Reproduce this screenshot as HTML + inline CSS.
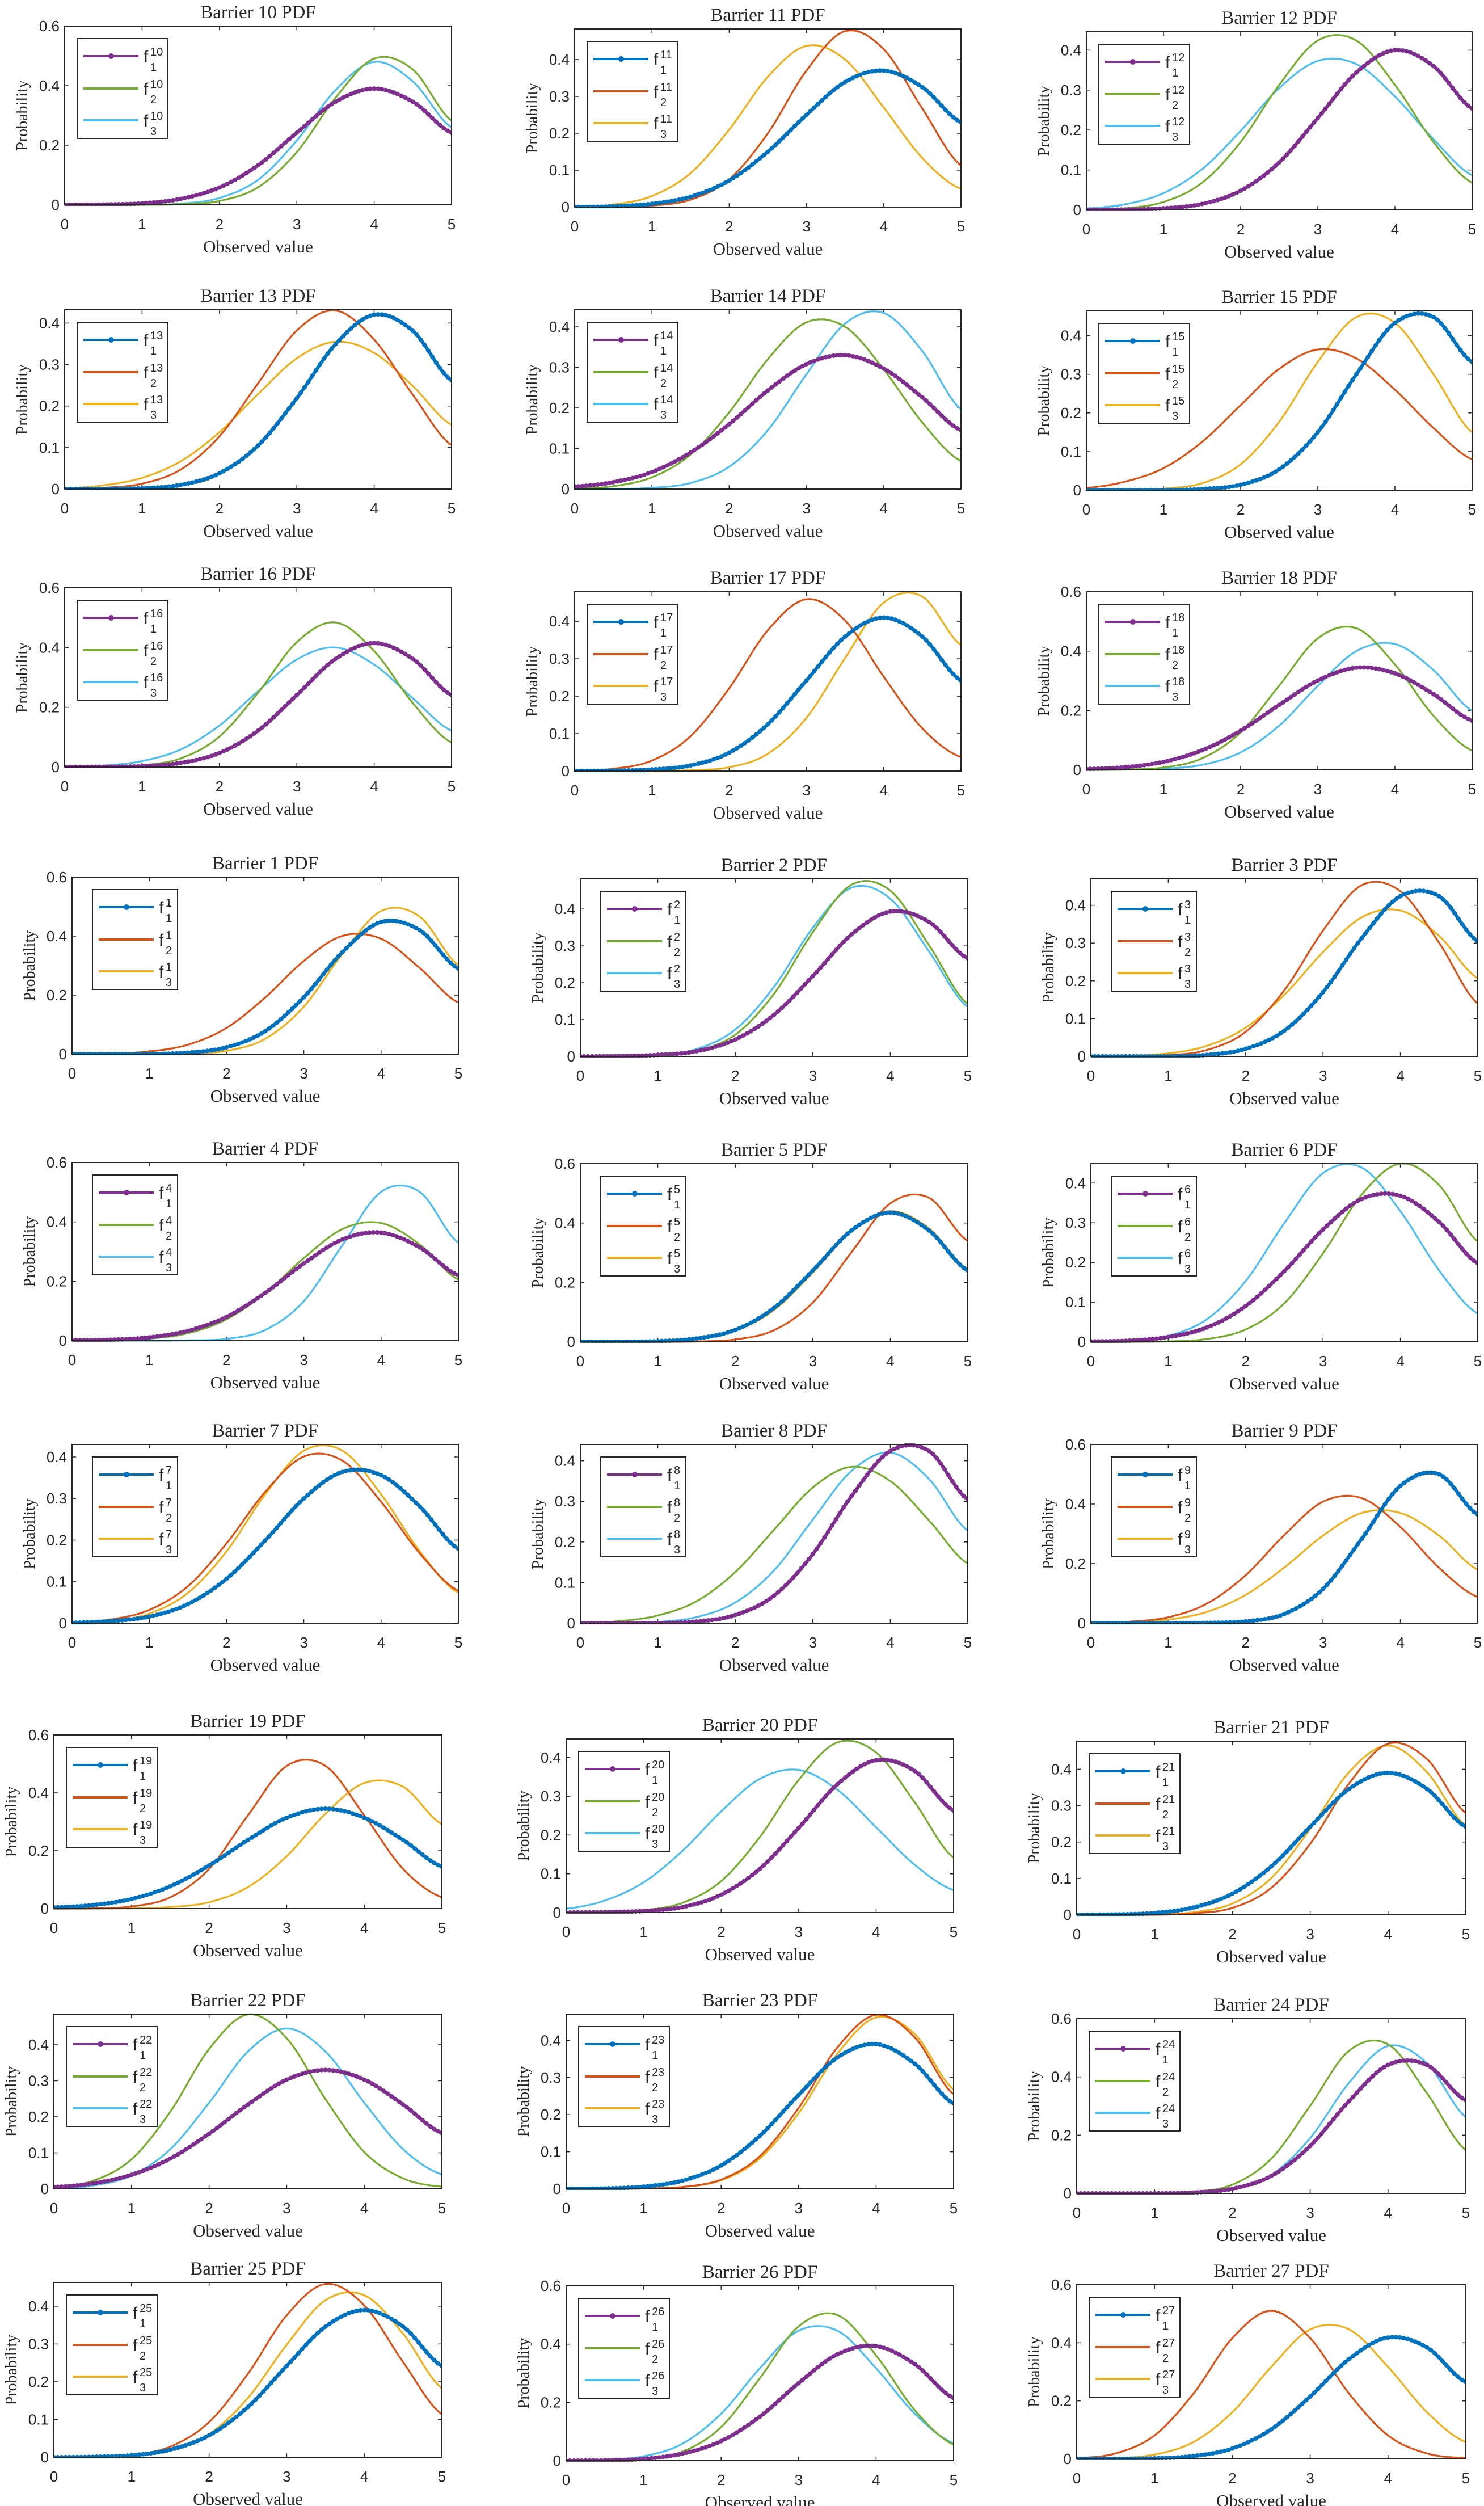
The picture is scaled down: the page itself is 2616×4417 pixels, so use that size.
<!DOCTYPE html>
<html><head><meta charset="utf-8"><style>
html,body{margin:0;padding:0;background:#fff;}
svg{display:block;}
</style></head><body>
<svg id="fig" xmlns="http://www.w3.org/2000/svg" width="2616" height="4417" viewBox="0 0 2616 4417">
<rect x="0" y="0" width="2616" height="4417" fill="#fff"/>
</svg>
<script>
const xs=[0,0.5,1,1.5,2,2.5,3,3.5,4,4.5,5];
const xTicks=[0,1,2,3,4,5];
const barrierIds=[10,11,12,13,14,15,16,17,18,1,2,3,4,5,6,7,8,9,19,20,21,22,23,24,25,26,27];
const yMaxes=[0.6,0.483,0.446,0.432,0.442,0.464,0.6,0.479,0.6, 0.6,0.482,0.47,0.6,0.6,0.449,0.43,0.44,0.6, 0.6,0.448,0.477,0.485,0.471,0.6,0.463,0.6,0.6];
const f1Values=[
[0,.001,.005,.02,.058,.133,.242,.346,.39,.346,.242],
[0,.002,.009,.028,.072,.15,.25,.339,.37,.325,.23],
[0,.001,.004,.015,.048,.119,.23,.344,.40,.36,.254],
[0,0,.002,.01,.038,.105,.219,.349,.42,.381,.262],
[.006,.017,.042,.09,.16,.243,.308,.33,.297,.226,.145],
[0,0,0,.003,.014,.054,.15,.30,.433,.448,.332],
[0,.001,.003,.014,.047,.122,.241,.362,.415,.362,.241],
[0,.001,.004,.015,.049,.125,.242,.359,.41,.359,.242],
[.003,.009,.027,.066,.132,.219,.301,.344,.325,.255,.166],
[0,0,0,.005,.023,.078,.193,.346,.448,.42,.29],
[0,.001,.004,.014,.046,.113,.218,.331,.393,.365,.266],
[0,0,0,.004,.02,.068,.17,.313,.424,.424,.305],
[.001,.003,.011,.033,.08,.161,.26,.341,.364,.314,.22],
[0,0,.002,.011,.04,.114,.24,.375,.435,.375,.24],
[.001,.003,.012,.036,.09,.178,.283,.36,.368,.302,.198],
[.001,.005,.016,.046,.107,.199,.30,.364,.356,.281,.179],
[0,0,0,.004,.02,.068,.17,.313,.424,.424,.305],
[0,0,0,.001,.006,.031,.115,.283,.461,.50,.365],
[.004,.012,.033,.077,.149,.237,.314,.345,.314,.237,.145],
[0,.001,.004,.014,.046,.113,.218,.331,.393,.365,.263],
[0,.001,.005,.02,.058,.133,.242,.346,.39,.346,.242],
[.005,.015,.039,.084,.153,.234,.303,.33,.303,.234,.155],
[0,.001,.006,.022,.063,.143,.253,.354,.39,.337,.23],
[0,0,0,.003,.016,.06,.163,.317,.441,.441,.32],
[0,.001,.005,.02,.058,.133,.242,.346,.39,.346,.242],
[0,.001,.006,.024,.067,.151,.266,.365,.393,.331,.215],
[0,0,.002,.01,.036,.102,.215,.344,.418,.384,.265]];
const f2Values=[
[0,0,0,.002,.013,.059,.177,.359,.491,.454,.283],
[0,0,.004,.02,.075,.20,.37,.477,.428,.267,.113],
[.001,.004,.02,.068,.17,.313,.424,.424,.313,.17,.068],
[0,.003,.013,.047,.127,.255,.382,.43,.36,.227,.106],
[.001,.007,.029,.085,.189,.32,.411,.40,.295,.164,.069],
[.006,.022,.057,.125,.22,.314,.364,.341,.26,.161,.08],
[0,.001,.006,.029,.102,.249,.418,.484,.388,.214,.082],
[.001,.006,.028,.093,.221,.376,.459,.402,.252,.114,.037],
[0,.001,.008,.039,.126,.284,.443,.477,.355,.182,.065],
[0,.002,.009,.032,.089,.192,.316,.401,.391,.292,.175],
[0,0,.002,.015,.059,.17,.337,.466,.45,.302,.142],
[0,0,.003,.017,.065,.175,.333,.453,.437,.301,.14],
[0,.001,.007,.025,.072,.16,.278,.376,.396,.324,.206],
[0,0,0,.001,.008,.039,.132,.302,.466,.485,.34],
[0,0,.001,.007,.031,.097,.223,.371,.449,.395,.253],
[.002,.009,.032,.089,.192,.316,.401,.391,.292,.168,.078],
[.001,.005,.019,.054,.126,.23,.334,.385,.35,.253,.147],
[.001,.005,.02,.066,.161,.296,.408,.42,.323,.186,.088],
[0,.001,.007,.039,.137,.322,.493,.493,.322,.137,.039],
[0,.001,.006,.025,.081,.195,.342,.439,.413,.284,.142],
[0,0,0,.004,.019,.074,.195,.361,.47,.428,.28],
[.004,.022,.082,.214,.388,.484,.418,.249,.102,.029,.006],
[0,0,.001,.005,.025,.088,.218,.381,.469,.408,.255],
[0,0,0,.005,.03,.119,.301,.49,.512,.344,.149],
[0,.001,.006,.028,.093,.221,.376,.459,.402,.252,.114],
[0,.001,.006,.031,.115,.283,.461,.50,.361,.173,.055],
[.003,.019,.081,.225,.416,.51,.416,.225,.081,.019,.003]];
const f3Values=[
[0,0,0,.004,.023,.084,.216,.385,.48,.414,.26],
[.001,.007,.03,.092,.21,.353,.437,.40,.27,.133,.049],
[.004,.014,.042,.102,.198,.305,.373,.365,.284,.177,.087],
[.002,.009,.027,.067,.137,.229,.315,.355,.328,.248,.155],
[0,0,.003,.015,.055,.145,.283,.408,.434,.34,.197],
[0,0,.004,.018,.067,.177,.332,.448,.433,.30,.15],
[.001,.005,.02,.059,.139,.254,.36,.40,.343,.23,.122],
[0,0,0,.002,.01,.046,.142,.302,.45,.466,.337],
[0,.001,.004,.017,.059,.149,.283,.40,.424,.336,.20],
[0,0,0,.002,.011,.052,.161,.34,.485,.466,.302],
[0,0,.004,.02,.073,.189,.349,.458,.428,.285,.134],
[0,.002,.008,.028,.076,.163,.276,.368,.386,.319,.207],
[0,0,0,.001,.006,.036,.133,.322,.501,.501,.33],
[0,0,.002,.009,.037,.107,.233,.373,.44,.382,.245],
[0,.003,.015,.057,.153,.299,.425,.439,.329,.18,.071],
[.001,.005,.023,.073,.173,.31,.415,.415,.31,.173,.073],
[0,.001,.003,.015,.051,.13,.255,.375,.42,.355,.228],
[.001,.003,.012,.038,.095,.187,.294,.37,.37,.294,.18],
[0,0,.001,.005,.022,.074,.181,.328,.434,.421,.292],
[.01,.031,.078,.159,.261,.345,.368,.317,.22,.123,.058],
[0,0,.001,.007,.031,.101,.236,.392,.465,.392,.245],
[.002,.009,.037,.11,.239,.381,.445,.381,.239,.11,.04],
[0,0,.001,.005,.023,.082,.204,.364,.462,.417,.268],
[0,0,0,.002,.014,.063,.19,.38,.506,.447,.263],
[0,.001,.004,.018,.061,.157,.298,.416,.429,.327,.183],
[0,.003,.015,.058,.161,.317,.446,.446,.317,.161,.06],
[0,.003,.015,.058,.161,.317,.446,.446,.317,.161,.058]];

const axesBoxes=[
[114,46,796,361],[1013,51,1694,365],[1915,56,2595,370],
[114,546,796,862],[1013,546,1694,862],[1915,548,2595,864],
[114,1036,796,1352],[1013,1043,1694,1359],[1915,1043,2595,1357],
[127,1546,808,1858],[1023,1549,1706,1862],[1923,1549,2605,1862],
[127,2049,808,2363],[1023,2051,1706,2365],[1923,2051,2605,2365],
[127,2546,808,2861],[1023,2546,1706,2861],[1923,2546,2605,2861],
[95,3058,779,3364],[998,3065,1681,3371],[1898,3069,2584,3375],
[95,3550,779,3858],[998,3550,1681,3858],[1898,3558,2584,3866],
[95,4023,779,4331],[998,4029,1681,4337],[1898,4027,2584,4334]];

const NS='http://www.w3.org/2000/svg';
const svg=document.getElementById('fig');
function mk(tag,attrs,parent){const e=document.createElementNS(NS,tag);for(const k in attrs)e.setAttribute(k,attrs[k]);(parent||svg).appendChild(e);return e;}
function crY(vals,x){
  const n=vals.length-1;let u=x/0.5;let i=Math.floor(u);if(i>=n)i=n-1;if(i<0)i=0;const t=u-i;
  const p0=vals[Math.max(i-1,0)],p1=vals[i],p2=vals[i+1],p3=vals[Math.min(i+2,n)];
  const t2=t*t,t3=t2*t;
  return 0.5*((2*p1)+(-p0+p2)*t+(2*p0-5*p1+4*p2-p3)*t2+(-p0+3*p1-3*p2+p3)*t3);
}
const TXT='#262626';
for(let k=0;k<barrierIds.length;k++){
  const b=axesBoxes[k],id=barrierIds[k],ymax=yMaxes[k];
  const L=b[0],T=b[1],R=b[2],B=b[3],W=R-L,H=B-T;
  const sx=x=>L+x/5*W;
  const sy=y=>B-y/ymax*H;
  const cols=(id%2===1)?['#0072BD','#D95319','#EDB120']:['#7E2F8E','#77AC30','#4DBEEE'];
  const g=mk('g',{});
  
  
  const title=mk('text',{x:(L+R)/2,y:T-14,'text-anchor':'middle','font-family':'"Liberation Serif",serif','font-size':33,fill:TXT},g);
  title.textContent='Barrier '+id+' PDF';
  
  
  const cpid='cp'+k;
  const cp=mk('clipPath',{id:cpid},g);mk('rect',{x:L,y:T-2,width:W,height:H+4},cp);
  // ticks
  const ystep=ymax>0.5?0.2:0.1;
  const yTicks=[];for(let v=0;v<=ymax+1e-9;v+=ystep)yTicks.push(Math.round(v*10)/10);
  for(const v of yTicks){
    const y=sy(v);
    mk('line',{x1:L,y1:y,x2:L+7,y2:y,stroke:TXT,'stroke-width':1.5},g);
    mk('line',{x1:R,y1:y,x2:R-7,y2:y,stroke:TXT,'stroke-width':1.5},g);
    const t=mk('text',{x:L-9,y:y+9,'text-anchor':'end','font-family':'"Liberation Sans",sans-serif','font-size':26,fill:TXT},g);
    t.textContent=v===0?'0':v.toFixed(1);
    
    
  }
  for(const v of xTicks){
    const x=sx(v);
    mk('line',{x1:x,y1:B,x2:x,y2:B-7,stroke:TXT,'stroke-width':1.5},g);
    mk('line',{x1:x,y1:T,x2:x,y2:T+7,stroke:TXT,'stroke-width':1.5},g);
    const t=mk('text',{x:x,y:B+43,'text-anchor':'middle','font-family':'"Liberation Sans",sans-serif','font-size':26,fill:TXT},g);
    t.textContent=String(v);
    
    
  }
  const xl=mk('text',{x:(L+R)/2,y:B+84,'text-anchor':'middle','font-family':'"Liberation Serif",serif','font-size':31,fill:TXT},g);
  xl.textContent='Observed value';
  
  
  const yl=mk('text',{x:0,y:0,'text-anchor':'middle','font-family':'"Liberation Serif",serif','font-size':28,fill:TXT,transform:'translate('+(L-66)+','+((T+B)/2)+') rotate(-90)'},g);
  yl.textContent='Probability';
  
  
  // series
  const series=[f1Values[k],f2Values[k],f3Values[k]];
  const cg=mk('g',{'clip-path':'url(#'+cpid+')'},g);
  for(let s=2;s>=0;s--){
    const vals=series[s];
    let pts=[];
    for(let i=0;i<=200;i++){const x=i*0.025;const y=Math.max(0,crY(vals,x));pts.push(sx(x).toFixed(1)+','+sy(y).toFixed(1));}
    const pl=mk('polyline',{points:pts.join(' '),fill:'none',stroke:cols[s],'stroke-width':s===0?6:3.2,'stroke-linejoin':'round'},cg);
    
    
    if(s===0){
      for(let i=0;i<=100;i++){const x=i*0.05;const y=Math.max(0,crY(vals,x));
        const c=mk('circle',{cx:sx(x),cy:sy(y),r:4,fill:cols[0]},cg);
        
        
      }
    }
  }
  // axes box
  const box=mk('rect',{x:L,y:T,width:W,height:H,fill:'none',stroke:TXT,'stroke-width':2},g);
  
  
  // legend
  const two=id>=10;
  const bx=L+(two?22:36),by=T+22,bw=two?160:150,bh=176;
  const lg=mk('g',{},g);
  
  
  mk('rect',{x:bx,y:by,width:bw,height:bh,fill:'#fff',stroke:TXT,'stroke-width':2},lg);
  const offs=[31,88,144];
  for(let s=0;s<3;s++){
    const ey=by+offs[s];
    const ln=mk('line',{x1:bx+11,y1:ey,x2:bx+108,y2:ey,stroke:cols[s],'stroke-width':4},lg);
    
    
    if(s===0)mk('circle',{cx:bx+60,cy:ey,r:5,fill:cols[0]},lg);
    const f=mk('text',{x:bx+117,y:ey+11,'font-family':'"Liberation Sans",sans-serif','font-size':30,fill:TXT},lg);
    f.textContent='f';
    
    
    const sup=mk('text',{x:bx+129,y:ey-1,'font-family':'"Liberation Sans",sans-serif','font-size':20,fill:TXT},lg);
    sup.textContent=String(id);
    
    
    const sub=mk('text',{x:bx+129,y:ey+26,'font-family':'"Liberation Sans",sans-serif','font-size':20,fill:TXT},lg);
    sub.textContent=String(s+1);
    
    
  }
}
</script>
</body></html>
